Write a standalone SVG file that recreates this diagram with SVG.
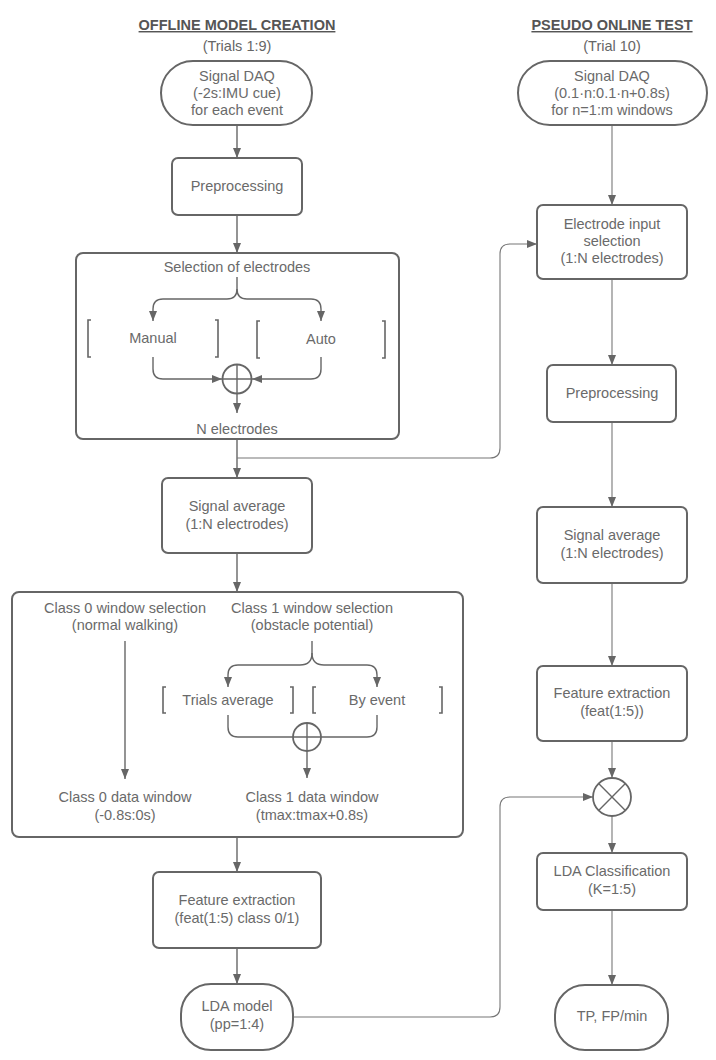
<svg xmlns="http://www.w3.org/2000/svg" width="716" height="1060" viewBox="0 0 716 1060">
<defs>
<marker id="arr" markerUnits="userSpaceOnUse" markerWidth="10" markerHeight="10" refX="10" refY="5" orient="auto">
<path d="M0,1 L10,5 L0,9 Z" fill="#666"/>
</marker>
<style>
text{font-family:"Liberation Sans",Arial,sans-serif;font-size:14.5px;fill:#6a6a6a;text-anchor:middle}
.hdr{font-weight:bold;font-size:14.5px;fill:#555;text-decoration:underline}
.sub{fill:#666}
.box{fill:#fff;stroke:#666;stroke-width:2}
.grp{fill:none;stroke:#666;stroke-width:2}
.br{fill:none;stroke:#666;stroke-width:1.6}
.c{fill:none;stroke:#666;stroke-width:1.4}
.cr{fill:none;stroke:#777;stroke-width:1.1}
.sym{fill:#fff;stroke:#666;stroke-width:1.8}
</style>
</defs>
<rect width="716" height="1060" fill="#fff"/>

<g id="headers">
<text class="hdr" x="237" y="30">OFFLINE MODEL CREATION</text>
<text class="sub" x="237" y="51">(Trials 1:9)</text>
<text class="hdr" x="612" y="30">PSEUDO ONLINE TEST</text>
<text class="sub" x="612" y="51">(Trial 10)</text>
</g>

<g id="connectors">
<path class="c" d="M237,125 V158" marker-end="url(#arr)"/>
<path class="c" d="M237,215 V253" marker-end="url(#arr)"/>
<path class="c" d="M237,277 V289 Q237,299 227,299 H163 Q153,299 153,309 V321" marker-end="url(#arr)"/>
<path class="c" d="M237,289 Q237,299 247,299 H311 Q321,299 321,309 V321" marker-end="url(#arr)"/>
<path class="c" d="M153,357 V369 Q153,379 163,379 H222" marker-end="url(#arr)"/>
<path class="c" d="M321,357 V369 Q321,379 311,379 H252" marker-end="url(#arr)"/>
<path class="c" d="M237,394 V413" marker-end="url(#arr)"/>
<path class="c" d="M237,439 V478" marker-end="url(#arr)"/>
<path class="cr" d="M237,458 H490 Q500,458 500,448 V254 Q500,244 510,244 H537" marker-end="url(#arr)"/>
<path class="c" d="M237,553 V592" marker-end="url(#arr)"/>
<path class="c" d="M125,641 V779" marker-end="url(#arr)"/>
<path class="c" d="M312,641 V653 Q312,665 300,665 H238 Q228,665 228,675 V687" marker-end="url(#arr)"/>
<path class="c" d="M312,653 Q312,665 324,665 H367 Q377,665 377,675 V687" marker-end="url(#arr)"/>
<path class="c" d="M228,715 V727 Q228,737 238,737 H367 Q377,737 377,727 V715"/>
<path class="c" d="M307,751 V778" marker-end="url(#arr)"/>
<path class="c" d="M237,837 V872" marker-end="url(#arr)"/>
<path class="c" d="M237,948 V984" marker-end="url(#arr)"/>
<path class="cr" d="M293,1017 H490 Q500,1017 500,1007 V807 Q500,797 510,797 H593" marker-end="url(#arr)"/>
<path class="cr" d="M612,125 V205" marker-end="url(#arr)"/>
<path class="cr" d="M612,279 V365" marker-end="url(#arr)"/>
<path class="cr" d="M612,422 V507" marker-end="url(#arr)"/>
<path class="cr" d="M612,583 V666" marker-end="url(#arr)"/>
<path class="cr" d="M612,741 V778" marker-end="url(#arr)"/>
<path class="cr" d="M612,816 V853" marker-end="url(#arr)"/>
<path class="cr" d="M612,910 V985" marker-end="url(#arr)"/>
</g>

<g id="daq-offline">
<rect class="box" x="161" y="61" width="151" height="64" rx="32"/>
<text x="237" y="81">Signal DAQ</text>
<text x="237" y="98">(-2s:IMU cue)</text>
<text x="237" y="115">for each event</text>
</g>

<g id="preproc-offline">
<rect class="box" x="172" y="158" width="130" height="57" rx="6"/>
<text x="237" y="191">Preprocessing</text>
</g>

<g id="electrode-selection">
<rect class="grp" x="76" y="253" width="323" height="186" rx="7"/>
<text x="237" y="272">Selection of electrodes</text>
<path class="br" d="M91,320 H88 V357 H91"/>
<path class="br" d="M215,320 H218 V357 H215"/>
<text x="153" y="343">Manual</text>
<path class="br" d="M260,321 H257 V358 H260"/>
<path class="br" d="M382,321 H385 V358 H382"/>
<text x="321" y="344">Auto</text>
<circle class="sym" cx="237" cy="379" r="14.5"/>
<path class="c" d="M222.5,379 H251.5 M237,364.5 V393.5"/>
<text x="237" y="434">N electrodes</text>
</g>

<g id="avg-offline">
<rect class="box" x="162" y="478" width="150" height="75" rx="6"/>
<text x="237" y="511">Signal average</text>
<text x="237" y="529">(1:N electrodes)</text>
</g>

<g id="window-selection">
<rect class="grp" x="12" y="592" width="451" height="245" rx="7"/>
<text x="125" y="613">Class 0 window selection</text>
<text x="125" y="630">(normal walking)</text>
<text x="312" y="613">Class 1 window selection</text>
<text x="312" y="630">(obstacle potential)</text>
<path class="br" d="M166,687 H163 V713 H166"/>
<path class="br" d="M290,687 H293 V713 H290"/>
<text x="228" y="705">Trials average</text>
<path class="br" d="M316,687 H313 V713 H316"/>
<path class="br" d="M439,687 H442 V713 H439"/>
<text x="377" y="705">By event</text>
<circle class="sym" cx="307" cy="737" r="14"/>
<path class="c" d="M293,737 H321 M307,723 V751"/>
<text x="125" y="802">Class 0 data window</text>
<text x="125" y="820">(-0.8s:0s)</text>
<text x="312" y="802">Class 1 data window</text>
<text x="312" y="820">(tmax:tmax+0.8s)</text>
</g>

<g id="feat-offline">
<rect class="box" x="153" y="872" width="168" height="76" rx="6"/>
<text x="237" y="905">Feature extraction</text>
<text x="237" y="923">(feat(1:5) class 0/1)</text>
</g>

<g id="lda-model">
<rect class="box" x="181" y="984" width="112" height="66" rx="30"/>
<text x="237" y="1011">LDA model</text>
<text x="237" y="1029">(pp=1:4)</text>
</g>

<g id="daq-online">
<rect class="box" x="518" y="61" width="189" height="64" rx="32"/>
<text x="612" y="81">Signal DAQ</text>
<text x="612" y="98">(0.1·n:0.1·n+0.8s)</text>
<text x="612" y="115">for n=1:m windows</text>
</g>

<g id="electrode-input">
<rect class="box" x="537" y="205" width="150" height="74" rx="6"/>
<text x="612" y="229">Electrode input</text>
<text x="612" y="246">selection</text>
<text x="612" y="263">(1:N electrodes)</text>
</g>

<g id="preproc-online">
<rect class="box" x="547" y="365" width="129" height="57" rx="6"/>
<text x="612" y="398">Preprocessing</text>
</g>

<g id="avg-online">
<rect class="box" x="537" y="507" width="150" height="76" rx="6"/>
<text x="612" y="540">Signal average</text>
<text x="612" y="558">(1:N electrodes)</text>
</g>

<g id="feat-online">
<rect class="box" x="537" y="666" width="150" height="75" rx="6"/>
<text x="612" y="698">Feature extraction</text>
<text x="612" y="716">(feat(1:5))</text>
</g>

<g id="multiply">
<circle class="sym" cx="612" cy="797" r="19"/>
<path class="c" d="M598.6,783.6 L625.4,810.4 M625.4,783.6 L598.6,810.4"/>
</g>

<g id="lda-class">
<rect class="box" x="537" y="853" width="150" height="57" rx="6"/>
<text x="612" y="876">LDA Classification</text>
<text x="612" y="894">(K=1:5)</text>
</g>

<g id="tp-fp">
<rect class="box" x="555" y="985" width="113" height="65" rx="30"/>
<text x="612" y="1021">TP, FP/min</text>
</g>
</svg>
